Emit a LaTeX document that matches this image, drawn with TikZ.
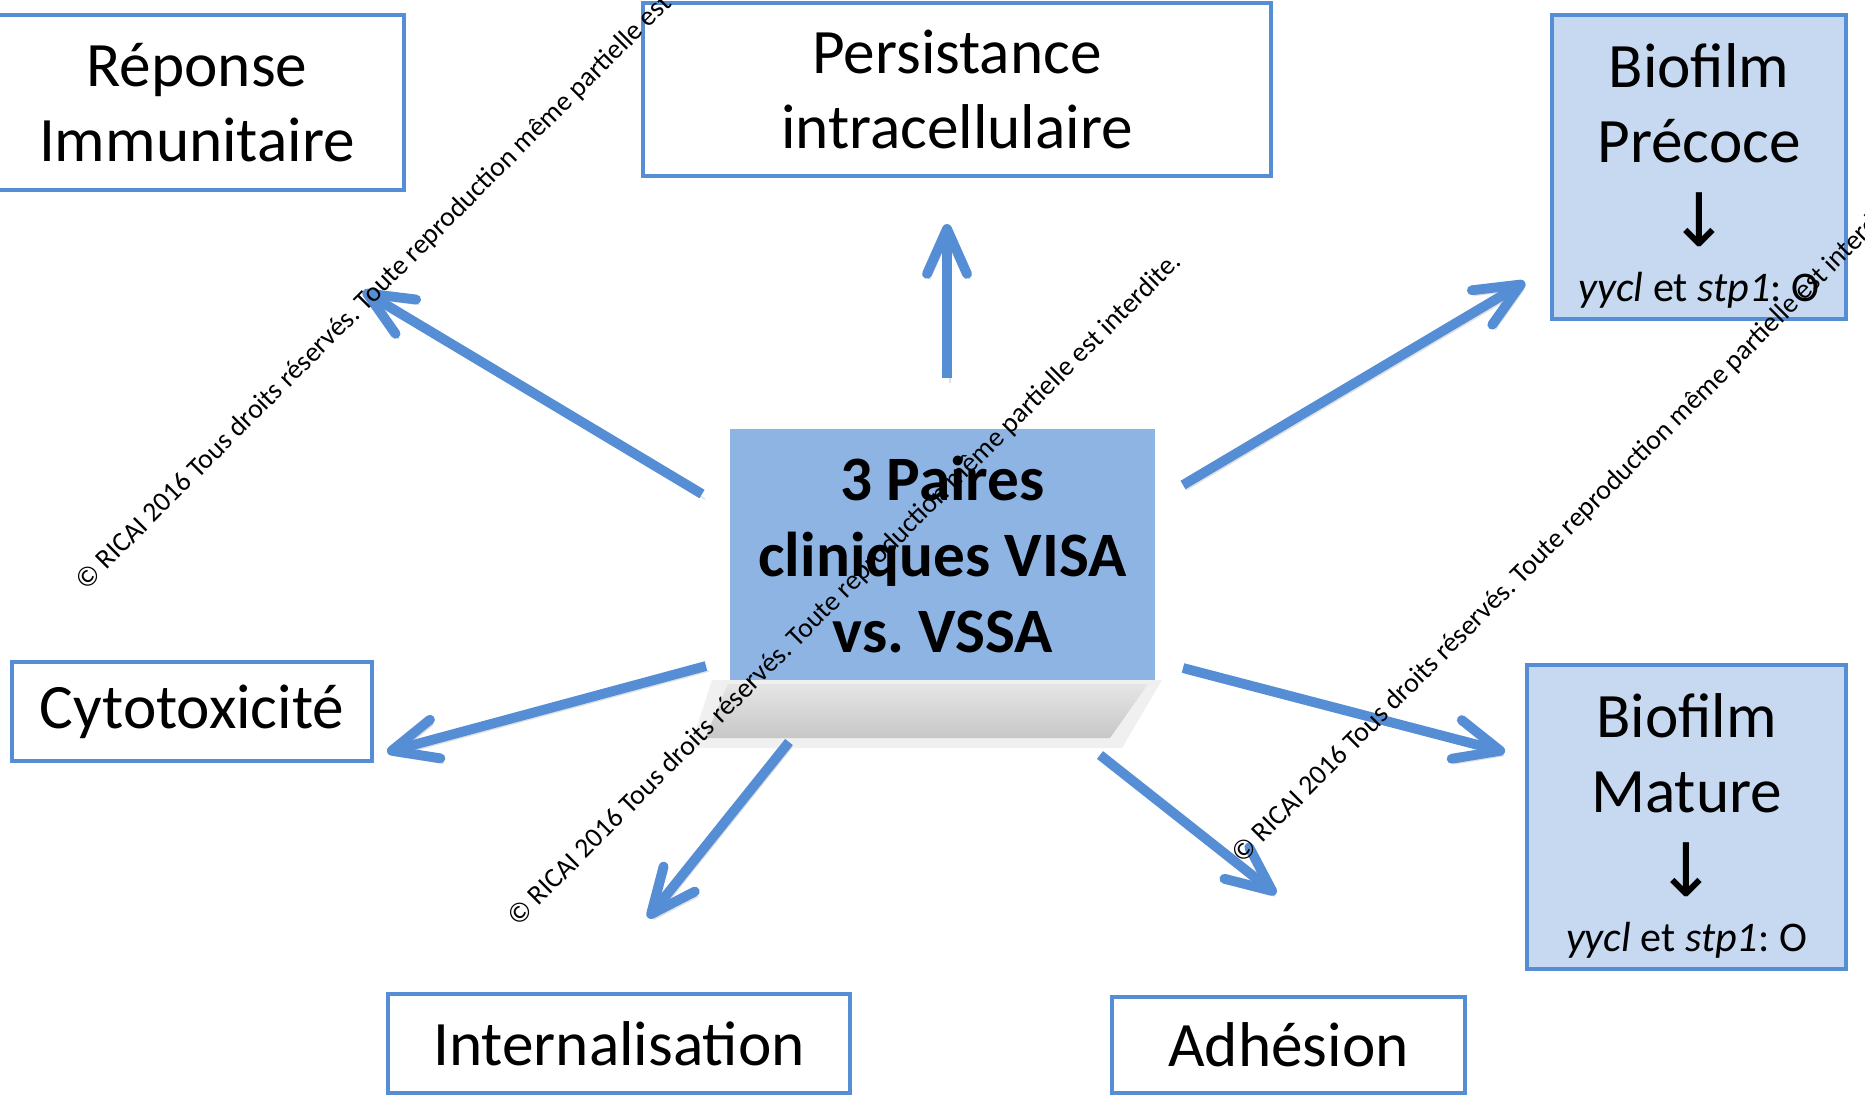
\documentclass[tikz,border=0pt]{standalone}
\usepackage{fontspec}
\setmainfont{Carlito}
\newfontfamily\arrowfont{DejaVu Sans}
\usetikzlibrary{arrows.meta,positioning}
\frenchspacing
\definecolor{boxblue}{HTML}{558ED5}
\definecolor{centerblue}{HTML}{8EB4E3}
\definecolor{paleblue}{HTML}{C6D9F1}
\tikzset{
  box/.style={draw=boxblue, line width=1.1pt, fill=white, align=center, inner sep=0pt, font=\fontsize{18}{21.5}\selectfont},
  biobox/.style={box, fill=paleblue},
  centerbox/.style={fill=centerblue, align=center, inner sep=0pt, font=\fontsize{18}{21.5}\selectfont\bfseries},
  arrow/.style={draw=boxblue, line width=2.8pt, -{Straight Barb[length=4.5mm,width=4mm,round]},
    preaction={draw=black!12, transform canvas={shift={(0.03,-0.05)}}}},
  notice/.style={font=\fontsize{7.9}{9}\selectfont, rotate=45, inner sep=0pt},
  genes/.style={font=\fontsize{12}{14}\selectfont}
}

\begin{document}
\begin{tikzpicture}
\useasboundingbox (0,0) rectangle (18.65,-10.96);
\clip (0,0) rectangle (18.65,-10.96);
% shadow under the centre box
\fill[black!6] (7.12,-6.80) -- (11.62,-6.80) -- (11.22,-7.48) -- (6.90,-7.48) -- cycle;
\shade[top color=black!10, bottom color=black!22] (7.28,-6.84) -- (11.48,-6.84) -- (11.10,-7.38) -- (7.05,-7.38) -- cycle;
\node[centerbox, minimum width=4.25cm, minimum height=2.51cm] (ctr) at (9.425,-5.545) {3 Paires\\cliniques VISA\\vs. VSSA};
% outer boxes
\node[box, minimum width=4.14cm, minimum height=1.75cm] (rep) at (1.97,-1.025) {Réponse\\Immunitaire};
\node[box, minimum width=6.28cm, minimum height=1.73cm] (per) at (9.57,-0.895) {Persistance\\intracellulaire};
\node[biobox, minimum width=2.94cm, minimum height=3.04cm] (pre) at (16.99,-1.67) {\rule{0pt}{0.62cm}Biofilm\\Précoce\\[0.08cm]{\arrowfont\fontsize{21}{21}\selectfont ↓}\\[-0.2cm]{\fontsize{12}{14}\selectfont\textit{yycl} et \textit{stp1}: O}};
\node[box, minimum width=3.60cm, minimum height=0.99cm] (cyt) at (1.92,-7.115) {Cytotoxicité};
\node[biobox, minimum width=3.19cm, minimum height=3.04cm] (mat) at (16.865,-8.17) {\rule{0pt}{0.62cm}Biofilm\\Mature\\[0.08cm]{\arrowfont\fontsize{21}{21}\selectfont ↓}\\[-0.2cm]{\fontsize{12}{14}\selectfont\textit{yycl} et \textit{stp1}: O}};
\node[box, minimum width=4.62cm, minimum height=0.99cm] (int) at (6.19,-10.435) {Internalisation};
\node[box, minimum width=3.53cm, minimum height=0.96cm] (adh) at (12.885,-10.45) {Adhésion};
% arrow ends
\coordinate (repS) at (7.02,-4.94);  \coordinate (repE) at (3.63,-2.91);
\coordinate (perS) at (9.47,-3.78);  \coordinate (perE) at (9.47,-2.24);
\coordinate (preS) at (11.83,-4.85); \coordinate (preE) at (15.25,-2.82);
\coordinate (cytS) at (7.06,-6.66);  \coordinate (cytE) at (3.87,-7.52);
\coordinate (intS) at (7.89,-7.42);  \coordinate (intE) at (6.48,-9.18);
\coordinate (adhS) at (11.00,-7.55); \coordinate (adhE) at (12.76,-8.94);
\coordinate (matS) at (11.83,-6.68); \coordinate (matE) at (15.05,-7.52);
\draw[arrow] (repS) -- (repE);
\draw[arrow] (perS) -- (perE);
\draw[arrow] (preS) -- (preE);
\draw[arrow] (cytS) -- (cytE);
\draw[arrow] (intS) -- (intE);
\draw[arrow] (adhS) -- (adhE);
\draw[arrow] (matS) -- (matE);
% copyright lines
\node[notice] (wm1) at (4.13,-2.54) {© RICAI 2016 Tous droits réservés. Toute reproduction même partielle est interdite.};
\node[notice] (wm2) at (8.45,-5.90) {© RICAI 2016 Tous droits réservés. Toute reproduction même partielle est interdite.};
\node[notice] (wm3) at (15.69,-5.27) {© RICAI 2016 Tous droits réservés. Toute reproduction même partielle est interdite.};
\end{tikzpicture}
\end{document}
